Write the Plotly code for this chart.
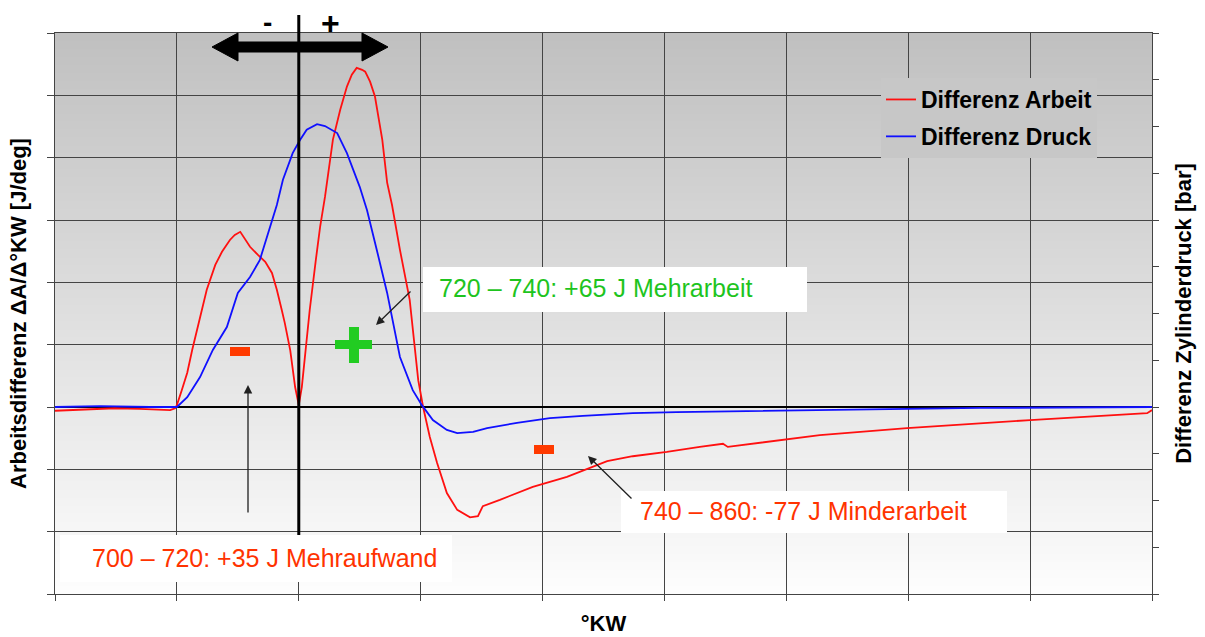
import plotly.graph_objects as go

# ---------------- data ----------------
kw_arbeit = [680.0, 683.3, 687.4, 689.8, 693.9, 698.9, 699.7, 700.0, 700.8, 701.7, 702.5, 703.8,
             704.9, 706.3, 707.4, 708.7, 709.5, 710.4, 711.2, 712.0, 713.3, 714.5, 715.6, 716.4,
             717.2, 717.7, 718.6, 719.4, 719.9, 720.0, 720.5, 721.8, 722.8, 723.5, 724.3, 725.6,
             726.8, 727.9, 728.7, 729.5, 730.4, 730.9, 731.7, 732.5, 733.7, 734.5, 735.3, 736.6,
             738.2, 739.6, 740.4, 741.5, 742.7, 744.3, 746.0, 748.1, 749.4, 750.2, 753.0, 758.4,
             764.0, 769.9, 770.6, 774.8, 780.4, 785.8, 789.6, 790.4, 796.8, 805.5, 819.8, 840.0,
             859.2, 860.0]
diff_arbeit = [-0.06, -0.05, -0.03, -0.02, -0.03, -0.05, -0.02, 0.03, 0.27, 0.55, 0.91, 1.43,
               1.88, 2.28, 2.49, 2.68, 2.76, 2.81, 2.68, 2.57, 2.44, 2.33, 2.15, 1.88,
               1.56, 1.35, 0.91, 0.32, 0.08, 0.03, 0.32, 1.56, 2.36, 2.89, 3.37, 4.29,
               4.77, 5.14, 5.33, 5.44, 5.41, 5.38, 5.22, 4.98, 4.29, 3.60, 3.24, 2.52,
               1.72, 0.43, 0.0, -0.48, -0.90, -1.38, -1.65, -1.77, -1.75, -1.59, -1.49, -1.28,
               -1.12, -0.90, -0.87, -0.79, -0.72, -0.64, -0.59, -0.64, -0.56, -0.45, -0.34, -0.21,
               -0.10, -0.05]

kw_druck = [680.0, 687.4, 695.6, 700.0, 701.7, 703.8, 705.9, 708.2, 710.0, 712.0, 713.6, 715.3,
            716.4, 717.4, 719.0, 720.2, 721.3, 723.0, 724.3, 726.3, 727.9, 730.0, 731.2, 732.8,
            734.5, 736.6, 738.7, 740.2, 742.0, 744.3, 746.0, 748.6, 750.9, 755.8, 761.2, 766.6,
            774.8, 782.0, 794.0, 805.5, 818.6, 831.8, 860.0]
diff_druck = [0.0, 0.02, 0.0, 0.0, 0.21, 0.64, 1.22, 1.71, 2.44, 2.78, 3.14, 3.85,
              4.32, 4.86, 5.43, 5.71, 5.93, 6.05, 6.01, 5.86, 5.43, 4.71, 4.21, 3.36,
              2.44, 1.07, 0.36, 0.04, -0.28, -0.49, -0.56, -0.53, -0.45, -0.34, -0.24, -0.19,
              -0.13, -0.11, -0.09, -0.06, -0.04, -0.02, 0.0]

series_names = ["Differenz Arbeit", "Differenz Druck"]
note_minus = "700 – 720: +35 J Mehraufwand"
note_plus = "720 – 740: +65 J Mehrarbeit"
note_minder = "740 – 860: -77 J Minderarbeit"

# ---------------- layout helpers (screen pixel -> paper) ----------------
W, H = 1205, 637
L, R, T, B = 55, 1152, 33, 594   # plot area in pixels


def PX(px):
    return (px - L) / (R - L)


def PY(py):
    return (B - py) / (B - T)


FONT = "Liberation Sans, Arial, sans-serif"
RED_TXT = "#ff3300"
GREEN = "#1ec41e"

fig = go.Figure()
fig.add_trace(go.Scatter(x=kw_arbeit, y=diff_arbeit, mode="lines", name=series_names[0],
                         line=dict(color="#ff1010", width=1.8), legendgroup="a"))
fig.add_trace(go.Scatter(x=kw_druck, y=diff_druck, mode="lines", name=series_names[1],
                         line=dict(color="#1010ff", width=1.8), yaxis="y2", legendgroup="b"))

shapes = []
# gradient background
n = 70
for i in range(n):
    f = (i + 0.5) / n
    v = int(round(253 - (253 - 192) * f))
    shapes.append(dict(type="rect", xref="paper", yref="paper", x0=0, x1=1,
                       y0=i / n, y1=(i + 1) / n + 0.002, layer="below",
                       fillcolor=f"rgb({v},{v},{v})", line=dict(width=0)))
# white boxes
for (x0, y0, x1, y1) in [(423, 267, 807, 312), (60, 535, 452, 582), (621, 491, 1007, 533)]:
    shapes.append(dict(type="rect", xref="paper", yref="paper", x0=PX(x0), x1=PX(x1),
                       y0=PY(y1), y1=PY(y0), fillcolor="white", line=dict(width=0), layer="above"))
# thick vertical line at 720
shapes.append(dict(type="line", xref="x", yref="paper", x0=720, x1=720, y0=PY(535), y1=PY(15),
                   line=dict(color="black", width=3), layer="above"))
# double arrow
pts = [(212, 47), (238, 33), (238, 42), (362, 42), (362, 33), (388, 47), (362, 61), (362, 52),
       (238, 52), (238, 61)]
path = "M " + " L ".join(f"{PX(a):.5f},{PY(b):.5f}" for a, b in pts) + " Z"
shapes.append(dict(type="path", xref="paper", yref="paper", path=path, fillcolor="black",
                   line=dict(color="black", width=1), layer="above"))
# red minus markers
for (x0, y0, x1, y1) in [(230, 347, 250, 356), (534, 445, 554, 454)]:
    shapes.append(dict(type="rect", xref="paper", yref="paper", x0=PX(x0), x1=PX(x1),
                       y0=PY(y1), y1=PY(y0), fillcolor="#ff3a00", line=dict(width=0), layer="above"))
# green plus marker
for (x0, y0, x1, y1) in [(349, 327, 359, 363), (335, 340, 372, 349)]:
    shapes.append(dict(type="rect", xref="paper", yref="paper", x0=PX(x0), x1=PX(x1),
                       y0=PY(y1), y1=PY(y0), fillcolor="#22cc22", line=dict(width=0), layer="above"))

annotations = [
    dict(text=note_plus, x=PX(595), y=PY(288), xref="paper", yref="paper", showarrow=False,
         font=dict(family=FONT, size=25, color=GREEN), xanchor="center", yanchor="middle"),
    dict(text=note_minus, x=PX(264), y=PY(558), xref="paper", yref="paper", showarrow=False,
         font=dict(family=FONT, size=25, color=RED_TXT), xanchor="center", yanchor="middle"),
    dict(text=note_minder, x=PX(803), y=PY(511), xref="paper", yref="paper", showarrow=False,
         font=dict(family=FONT, size=25, color=RED_TXT), xanchor="center", yanchor="middle"),
    dict(text="<b>-</b>", x=PX(267), y=PY(22), xref="paper", yref="paper", showarrow=False,
         font=dict(family=FONT, size=28, color="black"), xanchor="center", yanchor="middle"),
    dict(text="<b>+</b>", x=PX(330), y=PY(23), xref="paper", yref="paper", showarrow=False,
         font=dict(family=FONT, size=32, color="black"), xanchor="center", yanchor="middle"),
]
for (tx, ty, ax, ay) in [(248, 385, 0, 129), (376, 325, 36, -35), (588, 456, 45, 44)]:
    annotations.append(dict(text="", x=PX(tx), y=PY(ty), xref="paper", yref="paper",
                            showarrow=True, ax=ax, ay=ay, arrowhead=2, arrowsize=1.3,
                            arrowwidth=1.3, arrowcolor="#202020"))

fig.update_layout(
    width=W, height=H,
    margin=dict(l=L, r=W - R, t=T, b=H - B, pad=0),
    paper_bgcolor="white",
    plot_bgcolor="#e0e0e0",
    font=dict(family=FONT, color="black"),
    showlegend=True,
    legend=dict(x=PX(881), y=PY(78), xanchor="left", yanchor="top",
                bgcolor="rgb(199,199,199)", borderwidth=0, itemwidth=30,
                traceorder="grouped", tracegroupgap=4,
                font=dict(family=FONT, size=23, color="black", weight="bold")),
    xaxis=dict(range=[680, 860], tick0=680, dtick=20, showticklabels=False,
               showgrid=True, gridcolor="#444444", gridwidth=1.4,
               ticks="outside", ticklen=6, tickcolor="#444444", tickwidth=1.4,
               showline=True, linecolor="#444444", linewidth=1.4, mirror=True,
               zeroline=False, automargin=False,
               title=dict(text="<b>°KW</b>", font=dict(size=22), standoff=15)),
    yaxis=dict(range=[-3, 6], tick0=0, dtick=1, showticklabels=False,
               showgrid=True, gridcolor="#444444", gridwidth=1.4,
               ticks="outside", ticklen=7, tickcolor="#444444", tickwidth=1.4,
               showline=True, linecolor="#444444", linewidth=1.4,
               zeroline=True, zerolinecolor="black", zerolinewidth=2, automargin=False,
               title=dict(text="<b>Arbeitsdifferenz ΔA/Δ°KW [J/deg]</b>", font=dict(size=22),
                          standoff=14)),
    yaxis2=dict(range=[-4, 8], tick0=0, dtick=1, showticklabels=False, overlaying="y",
                side="right", showgrid=False, zeroline=False,
                ticks="outside", ticklen=6, tickcolor="#444444", tickwidth=1.4,
                showline=True, linecolor="#444444", linewidth=1.4, automargin=False,
                title=dict(text="<b>Differenz Zylinderdruck [bar]</b>", font=dict(size=22),
                           standoff=17)),
    shapes=shapes,
    annotations=annotations,
)

fig.write_html("out.html", config={"displayModeBar": False},
               post_script="document.body.style.margin='0';document.body.style.padding='0';")
